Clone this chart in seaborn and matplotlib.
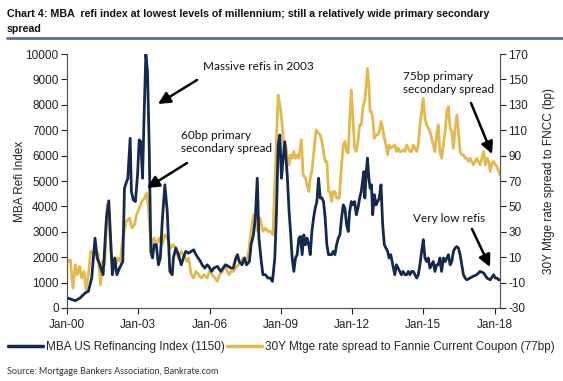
import numpy as np
import pandas as pd
import matplotlib
matplotlib.use("Agg")
import matplotlib.pyplot as plt
import seaborn as sns
from matplotlib.lines import Line2D

# ---------------- data ----------------
refi_year = [2000.03, 2000.35, 2000.55, 2000.76, 2000.90, 2001.04, 2001.18, 2001.27, 2001.38, 2001.52,
             2001.66, 2001.76, 2001.91, 2002.01, 2002.10, 2002.21, 2002.35, 2002.42, 2002.56, 2002.66,
             2002.71, 2002.79, 2002.88, 2002.97, 2003.04, 2003.11, 2003.18, 2003.25, 2003.32, 2003.39,
             2003.46, 2003.53, 2003.60, 2003.67, 2003.76, 2003.85, 2003.93, 2004.01, 2004.12, 2004.22,
             2004.33, 2004.43, 2004.48, 2004.58, 2004.69, 2004.81, 2004.90, 2005.00, 2005.12, 2005.23,
             2005.33, 2005.43, 2005.52, 2005.62, 2005.69, 2005.80, 2005.90, 2005.97, 2006.09, 2006.18,
             2006.33, 2006.47, 2006.57, 2006.68, 2006.80, 2006.90, 2007.00, 2007.11, 2007.18, 2007.25,
             2007.37, 2007.47, 2007.56, 2007.68, 2007.75, 2007.85, 2007.93, 2008.01, 2008.08, 2008.18,
             2008.25, 2008.36, 2008.46, 2008.56, 2008.65, 2008.75, 2008.82, 2008.89, 2008.96, 2009.03,
             2009.10, 2009.17, 2009.28, 2009.35, 2009.41, 2009.48, 2009.55, 2009.62, 2009.69, 2009.76,
             2009.83, 2009.90, 2009.97, 2010.04, 2010.11, 2010.18, 2010.24, 2010.31, 2010.38, 2010.45,
             2010.52, 2010.59, 2010.66, 2010.73, 2010.80, 2010.87, 2010.94, 2011.01, 2011.07, 2011.14,
             2011.21, 2011.28, 2011.35, 2011.42, 2011.49, 2011.56, 2011.63, 2011.70, 2011.77, 2011.84,
             2011.90, 2011.97, 2012.04, 2012.11, 2012.18, 2012.25, 2012.32, 2012.39, 2012.46, 2012.50,
             2012.54, 2012.60, 2012.65, 2012.71, 2012.76, 2012.82, 2012.87, 2012.94, 2013.01, 2013.08,
             2013.15, 2013.22, 2013.29, 2013.36, 2013.43, 2013.50, 2013.56, 2013.63, 2013.80, 2013.87,
             2013.94, 2014.01, 2014.08, 2014.15, 2014.23, 2014.30, 2014.37, 2014.44, 2014.51, 2014.58,
             2014.65, 2014.72, 2014.79, 2014.86, 2014.93, 2015.00, 2015.07, 2015.14, 2015.21, 2015.28,
             2015.35, 2015.42, 2015.49, 2015.56, 2015.63, 2015.70, 2015.77, 2015.85, 2015.92, 2015.99,
             2016.06, 2016.13, 2016.20, 2016.27, 2016.34, 2016.41, 2016.48, 2016.55, 2016.62, 2016.69,
             2016.76, 2016.83, 2016.97, 2017.11, 2017.25, 2017.39, 2017.54, 2017.68, 2017.82, 2017.96,
             2018.03, 2018.10, 2018.17, 2018.23]
refi_value = [393, 288, 393, 590, 655, 1180, 2750, 1970, 1700, 1310,
              3540, 4220, 1310, 1970, 1310, 1570, 1830, 4720, 5110, 6680,
              4590, 4260, 4190, 5240, 6620, 6550, 5110, 7730, 9990, 9300,
              6420, 2230, 1970, 2490, 2490, 1700, 1970, 3410, 4850, 3800,
              1440, 1310, 1970, 2360, 2100, 1700, 1970, 2230, 2160, 2230,
              2290, 2100, 1970, 1830, 1700, 1570, 1700, 1640, 1440, 1570,
              1640, 1440, 1570, 1700, 1640, 1570, 1570, 1970, 2100, 1830,
              1700, 1970, 1700, 1830, 2490, 2880, 3540, 5110, 2750, 1830,
              1310, 1310, 1180, 1180, 1050, 1970, 3800, 6420, 6810, 5110,
              5900, 6550, 5110, 3800, 3010, 1970, 1440, 1970, 2100, 2750,
              2820, 2100, 2880, 2490, 2750, 2490, 2100, 3010, 3540, 3930,
              4190, 5110, 4330, 4330, 4190, 3540, 2490, 2100, 2100, 2100,
              2230, 2100, 2490, 2750, 2880, 3540, 4060, 3930, 3280, 3010,
              3800, 4190, 4060, 4190, 3670, 3930, 4330, 4590, 5110, 5370,
              4330, 5370, 5900, 5110, 4720, 4850, 3670, 4460, 4060, 4190,
              4330, 4850, 3280, 2490, 2360, 2230, 1970, 2100, 1310, 1700,
              1570, 1440, 1310, 1440, 1310, 1310, 1440, 1310, 1440, 1440,
              1310, 1180, 1310, 1700, 2230, 2690, 1970, 1830, 1970, 1570,
              1700, 1830, 1440, 1700, 1700, 1970, 1440, 1970, 1830, 1970,
              2100, 1700, 1830, 2230, 2360, 2420, 2360, 2100, 1700, 1310,
              1180, 1110, 1180, 1250, 1310, 1440, 1380, 1180, 1110, 1310,
              1180, 1180, 1110, 1110]

spread_year = [2000.03, 2000.14, 2000.25, 2000.35, 2000.44, 2000.53, 2000.62, 2000.72, 2000.80, 2000.90,
               2001.00, 2001.11, 2001.22, 2001.31, 2001.41, 2001.49, 2001.59, 2001.69, 2001.77, 2001.87,
               2001.94, 2002.05, 2002.14, 2002.24, 2002.35, 2002.49, 2002.63, 2002.74, 2002.84, 2002.93,
               2003.04, 2003.15, 2003.26, 2003.35, 2003.43, 2003.49, 2003.57, 2003.67, 2003.76, 2003.87,
               2004.01, 2004.12, 2004.23, 2004.36, 2004.48, 2004.58, 2004.69, 2004.81, 2004.90, 2005.05,
               2005.12, 2005.23, 2005.33, 2005.43, 2005.54, 2005.66, 2005.76, 2005.90, 2006.00, 2006.11,
               2006.23, 2006.33, 2006.43, 2006.54, 2006.65, 2006.75, 2006.83, 2006.90, 2007.00, 2007.11,
               2007.22, 2007.32, 2007.42, 2007.54, 2007.65, 2007.75, 2007.85, 2007.93, 2008.03, 2008.13,
               2008.25, 2008.36, 2008.46, 2008.56, 2008.67, 2008.79, 2008.89, 2009.00, 2009.07, 2009.14,
               2009.21, 2009.28, 2009.35, 2009.41, 2009.48, 2009.55, 2009.62, 2009.69, 2009.76, 2009.83,
               2009.87, 2009.94, 2010.04, 2010.11, 2010.18, 2010.24, 2010.31, 2010.38, 2010.49, 2010.59,
               2010.66, 2010.73, 2010.80, 2010.87, 2010.94, 2011.01, 2011.07, 2011.14, 2011.21, 2011.28,
               2011.35, 2011.46, 2011.56, 2011.63, 2011.70, 2011.77, 2011.84, 2011.90, 2011.97, 2012.04,
               2012.11, 2012.18, 2012.25, 2012.32, 2012.39, 2012.46, 2012.53, 2012.60, 2012.65, 2012.71,
               2012.76, 2012.82, 2012.87, 2012.94, 2013.01, 2013.08, 2013.15, 2013.22, 2013.29, 2013.36,
               2013.43, 2013.50, 2013.56, 2013.63, 2013.80, 2013.87, 2013.94, 2014.01, 2014.08, 2014.15,
               2014.23, 2014.30, 2014.37, 2014.44, 2014.51, 2014.58, 2014.65, 2014.72, 2014.79, 2014.86,
               2014.93, 2015.00, 2015.07, 2015.14, 2015.21, 2015.28, 2015.35, 2015.42, 2015.49, 2015.56,
               2015.63, 2015.70, 2015.77, 2015.85, 2015.92, 2015.99, 2016.06, 2016.13, 2016.20, 2016.27,
               2016.34, 2016.41, 2016.48, 2016.55, 2016.62, 2016.69, 2016.76, 2016.83, 2016.90, 2016.97,
               2017.04, 2017.11, 2017.18, 2017.25, 2017.32, 2017.39, 2017.46, 2017.54, 2017.61, 2017.68,
               2017.75, 2017.82, 2017.89, 2017.96, 2018.03, 2018.10, 2018.17, 2018.23]
spread_value = [6.7, 8.0, -14.3, 4.1, -3.8, 2.8, -6.4, -1.2, -15.6, -3.8,
                14.6, 13.2, 11.9, 13.2, -11.6, 6.7, 4.1, 51.3, 38.1, 9.3,
                8.0, 4.1, 9.3, 6.7, 25.0, 38.1, 40.8, 32.9, 35.5, 43.4,
                48.6, 53.9, 56.5, 60.4, 48.6, 30.3, 19.8, 25.0, 19.8, 25.0,
                19.8, 27.7, 25.0, 17.2, 19.8, 17.2, 9.3, 14.6, 11.9, 6.7,
                9.3, -3.8, -6.4, -1.2, -3.8, -6.4, -3.8, -6.4, -1.2, -3.8,
                -6.4, -9.0, -3.8, -1.2, 4.1, -1.2, -3.8, -1.2, -1.2, 1.5,
                4.1, 6.7, 9.3, 6.7, 14.6, 30.3, 43.4, 40.8, 30.3, 40.8,
                30.3, 32.9, 30.3, 30.3, 27.7, 87.9, 137.7, 125.0, 111.5, 93.2,
                98.4, 87.9, 82.7, 90.6, 87.9, 93.2, 87.9, 90.6, 87.9, 98.4,
                102.4, 74.8, 72.2, 67.0, 61.7, 72.2, 77.5, 90.6, 110.2, 107.6,
                106.3, 101.1, 93.2, 85.3, 85.3, 61.7, 61.7, 53.9, 61.7, 61.7,
                56.5, 56.5, 82.7, 98.4, 101.1, 93.2, 91.9, 116.8, 141.7, 119.4,
                95.8, 93.2, 101.1, 114.2, 114.2, 128.6, 132.5, 145.6, 158.7, 145.6,
                124.6, 124.6, 119.4, 103.7, 106.3, 106.3, 108.9, 116.8, 111.5, 103.7,
                98.4, 90.6, 98.4, 95.8, 98.4, 93.2, 95.8, 93.2, 93.2, 94.5,
                93.2, 98.4, 95.8, 93.2, 93.2, 98.4, 95.8, 93.2, 98.4, 114.2,
                124.6, 135.1, 119.4, 114.2, 111.5, 108.9, 103.7, 98.4, 93.2, 106.3,
                114.2, 93.2, 87.9, 98.4, 108.9, 124.6, 128.6, 111.5, 108.9, 95.8,
                111.5, 122.0, 108.9, 93.2, 90.6, 90.6, 87.9, 87.9, 85.3, 87.9,
                85.3, 82.7, 85.3, 87.9, 85.3, 82.7, 87.9, 93.2, 82.7, 87.9,
                85.3, 77.5, 84.0, 85.3, 82.7, 81.4, 77.5, 74.8]

x_tick_pos = [2000, 2003, 2006, 2009, 2012, 2015, 2018]
x_tick_labels = ["Jan-00", "Jan-03", "Jan-06", "Jan-09", "Jan-12", "Jan-15", "Jan-18"]
left_ticks = list(range(0, 10001, 1000))
right_ticks = list(range(-30, 171, 20))

refi_label = "MBA US Refinancing Index (1150)"
spread_label = "30Y Mtge rate spread to Fannie Current Coupon (77bp)"
title_line1 = "Chart 4: MBA  refi index at lowest levels of millennium; still a relatively wide primary secondary"
title_line2 = "spread"
source_text = "Source: Mortgage Bankers Association, Bankrate.com"

# ---------------- styling ----------------
sns.set_theme(style="white")
plt.rcParams["font.family"] = ["Liberation Sans", "DejaVu Sans"]

NAVY = "#14294D"
GOLD = "#E2B84F"

refi_df = pd.DataFrame({"year": refi_year, "value": refi_value})
spread_df = pd.DataFrame({"year": spread_year, "value": spread_value})

fig = plt.figure(figsize=(5.63, 3.81), dpi=100)
ax = fig.add_axes([67 / 563, 1 - 308 / 381, (500 - 67) / 563, (308 - 54) / 381])
ax2 = ax.twinx()

sns.lineplot(data=spread_df, x="year", y="value", ax=ax2, color=GOLD, linewidth=2.0)
sns.lineplot(data=refi_df, x="year", y="value", ax=ax, color=NAVY, linewidth=2.0)
ax.set_zorder(ax2.get_zorder() + 1)
ax.patch.set_visible(False)

ax.set_xlim(2000, 2018.23)
ax.set_ylim(0, 10000)
ax2.set_ylim(-30, 170)

ax.set_xticks(x_tick_pos)
ax.set_xticklabels(x_tick_labels)
ax.set_yticks(left_ticks)
ax.set_yticklabels([str(v) for v in left_ticks])
ax2.set_yticks(right_ticks)
ax2.set_yticklabels([str(v) for v in right_ticks])

ax.set_xlabel("")
ax.set_ylabel("MBA Refi Index", fontsize=8.5, color="#222222", labelpad=-0.5)
ax2.set_ylabel("30Y Mtge rate spread to FNCC (bp)", fontsize=8.5, color="#222222", labelpad=11)

for a in (ax, ax2):
    a.tick_params(axis="both", which="major", labelsize=8.5, colors="#222222",
                  length=4, width=0.8, direction="out", pad=2)
    for s in a.spines.values():
        s.set_color("#555555")
        s.set_linewidth(0.8)
    a.spines["top"].set_visible(False)
ax.tick_params(axis="x", bottom=True, pad=4)
ax.tick_params(axis="y", left=True)
ax2.tick_params(axis="y", right=True)
ax.grid(False)
ax2.grid(False)

# annotations
ann_font = dict(family=["Lato", "DejaVu Sans"], fontsize=8.5, color="#111111")
arrow = dict(arrowstyle="-|>,head_length=0.6,head_width=0.3", color="black", lw=1.8, shrinkA=0, shrinkB=0)


def data_from_px(px, py):
    x = 2000 + (px - 67) / (500 - 67) * (2018.23 - 2000)
    y = (308 - py) / (308 - 54) * 10000
    return x, y


def ann(text, tail_px, head_px, text_px):
    ax.annotate("", xy=data_from_px(*head_px), xytext=data_from_px(*tail_px),
                arrowprops=arrow, annotation_clip=False)
    fig.text(text_px[0] / 563, 1 - text_px[1] / 381, text, ha="left", va="center",
             linespacing=1.15, **ann_font)


ann("Massive refis in 2003", (197, 80), (158, 104), (203, 66))
ann("60bp primary\nsecondary spread", (187, 163), (147, 188), (181, 142))
ann("75bp primary\nsecondary spread", (471, 103), (492, 154), (403, 83))
ann("Very low refis", (472, 229), (490, 267), (413, 219))

# title: fit the first line to the reference width (7 px .. 490 px)
title_kw = dict(ha="left", va="center", fontweight="bold", family=["Liberation Sans", "DejaVu Sans"],
                color="#111111")
t1 = fig.text(7 / 563, 1 - 14 / 381, title_line1, fontsize=9, **title_kw)
renderer = fig.canvas.get_renderer()
w = t1.get_window_extent(renderer).width
fs = 9 * (483 / w)
t1.set_fontsize(fs)
fig.text(7 / 563, 1 - 29 / 381, title_line2, fontsize=fs, **title_kw)
fig.add_artist(Line2D([7 / 563, 1.0], [1 - 38 / 381, 1 - 38 / 381], color="#5E6F8C", lw=2.0))

handles = [Line2D([], [], color=NAVY, lw=2.5), Line2D([], [], color=GOLD, lw=2.5)]
fig.legend(handles, [refi_label, spread_label], loc="center left",
           bbox_to_anchor=(8 / 563, 1 - 347 / 381), ncol=2, frameon=False,
           fontsize=8.5, handlelength=3.0, handletextpad=0.2, columnspacing=0.2,
           borderaxespad=0, borderpad=0)

fig.text(7 / 563, 1 - 372 / 381, source_text, ha="left", va="center", fontsize=6.5,
         family=["Lato", "DejaVu Sans"], color="#333333")

fig.savefig("out.png", dpi=100, facecolor="white")
